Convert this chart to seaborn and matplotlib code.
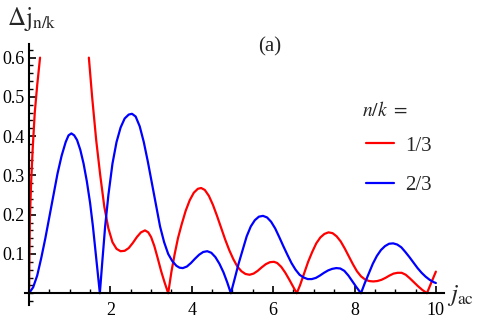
import numpy as np
import pandas as pd
import matplotlib
matplotlib.use("Agg")
import matplotlib.pyplot as plt
import seaborn as sns
from matplotlib.ticker import MultipleLocator, FixedLocator
from matplotlib.lines import Line2D

# ---- data ----
red_a_x = [0.0, 0.01, 0.02, 0.05, 0.09, 0.14, 0.20, 0.27]
red_a_y = [0.0, 0.10, 0.19, 0.28, 0.37, 0.46, 0.53, 0.60]

red_b_x = [1.47, 1.55, 1.65, 1.75, 1.85, 1.95, 2.05, 2.15, 2.25, 2.35, 2.45,
           2.55, 2.65, 2.75, 2.85, 2.93, 3.0, 3.08, 3.16, 3.25, 3.33, 3.42,
           3.5, 3.58, 3.66, 3.75, 3.85, 3.95, 4.05, 4.15, 4.23, 4.32, 4.42,
           4.52, 4.62, 4.72, 4.82, 4.92, 5.02, 5.12, 5.22, 5.32, 5.42, 5.52,
           5.62, 5.72, 5.82, 5.92, 6.02, 6.1, 6.2, 6.3, 6.4, 6.5, 6.58, 6.66,
           6.76, 6.86, 6.96, 7.06, 7.16, 7.26, 7.36, 7.46, 7.56, 7.66, 7.76,
           7.86, 7.96, 8.06, 8.16, 8.26, 8.36, 8.46, 8.56, 8.66, 8.76, 8.86,
           8.96, 9.06, 9.16, 9.26, 9.36, 9.46, 9.56, 9.66, 9.78, 9.86, 9.94,
           10.0]
red_b_y = [0.60, 0.50, 0.39, 0.30, 0.22, 0.165, 0.13, 0.113, 0.107, 0.108,
           0.115, 0.128, 0.143, 0.155, 0.16, 0.155, 0.143, 0.12, 0.09, 0.055,
           0.028, 0.0, 0.055, 0.10, 0.14, 0.175, 0.21, 0.237, 0.256, 0.266,
           0.268, 0.263, 0.248, 0.225, 0.197, 0.167, 0.137, 0.11, 0.087, 0.068,
           0.056, 0.049, 0.047, 0.05, 0.057, 0.066, 0.074, 0.079, 0.08, 0.077,
           0.067, 0.052, 0.034, 0.015, 0.0, 0.02, 0.05, 0.08, 0.105, 0.127,
           0.142, 0.151, 0.155, 0.153, 0.145, 0.132, 0.114, 0.094, 0.074,
           0.056, 0.043, 0.035, 0.031, 0.03, 0.031, 0.034, 0.039, 0.045, 0.05,
           0.052, 0.052, 0.047, 0.038, 0.028, 0.018, 0.009, 0.0, 0.02, 0.04,
           0.055]

blue_x = [0.0, 0.1, 0.2, 0.3, 0.4, 0.5, 0.6, 0.7, 0.8, 0.9, 0.97, 1.04, 1.11,
          1.18, 1.26, 1.34, 1.42, 1.5, 1.57, 1.64, 1.74, 1.8, 1.87, 1.95, 2.05,
          2.15, 2.25, 2.35, 2.45, 2.53, 2.62, 2.72, 2.82, 2.92, 3.02, 3.12,
          3.22, 3.32, 3.42, 3.52, 3.62, 3.7, 3.78, 3.88, 3.98, 4.08, 4.18,
          4.28, 4.38, 4.48, 4.58, 4.68, 4.78, 4.87, 4.96, 5.05, 5.15, 5.25,
          5.35, 5.45, 5.55, 5.65, 5.75, 5.85, 5.95, 6.05, 6.15, 6.25, 6.35,
          6.45, 6.55, 6.65, 6.75, 6.85, 6.95, 7.05, 7.15, 7.25, 7.35, 7.45,
          7.55, 7.65, 7.75, 7.85, 7.95, 8.05, 8.16, 8.25, 8.35, 8.45, 8.55,
          8.65, 8.75, 8.85, 8.95, 9.05, 9.15, 9.25, 9.35, 9.45, 9.55, 9.65,
          9.75, 9.85, 9.95, 10.0]
blue_y = [0.0, 0.015, 0.045, 0.09, 0.14, 0.195, 0.25, 0.305, 0.35, 0.385,
          0.402, 0.407, 0.402, 0.39, 0.365, 0.33, 0.285, 0.23, 0.17, 0.10, 0.0,
          0.08, 0.17, 0.25, 0.33, 0.385, 0.422, 0.445, 0.455, 0.457, 0.45,
          0.425, 0.385, 0.335, 0.28, 0.225, 0.17, 0.13, 0.10, 0.082, 0.07,
          0.065, 0.064, 0.068, 0.077, 0.088, 0.098, 0.105, 0.107, 0.103, 0.092,
          0.075, 0.053, 0.028, 0.0, 0.035, 0.075, 0.11, 0.145, 0.17, 0.186,
          0.195, 0.197, 0.193, 0.182, 0.165, 0.143, 0.12, 0.098, 0.077, 0.06,
          0.047, 0.04, 0.036, 0.036, 0.039, 0.045, 0.052, 0.058, 0.062, 0.064,
          0.063, 0.057, 0.045, 0.03, 0.015, 0.0, 0.025, 0.05, 0.075, 0.095,
          0.11, 0.12, 0.126, 0.127, 0.124, 0.117, 0.105, 0.092, 0.078, 0.064,
          0.052, 0.042, 0.034, 0.028, 0.026]

series_labels = ["1/3", "2/3"]
x_ticks = [2, 4, 6, 8, 10]
y_ticks = [0.1, 0.2, 0.3, 0.4, 0.5, 0.6]

df = pd.concat([
    pd.DataFrame({"x": red_a_x, "y": red_a_y, "nk": series_labels[0], "seg": "a"}),
    pd.DataFrame({"x": red_b_x, "y": red_b_y, "nk": series_labels[0], "seg": "b"}),
    pd.DataFrame({"x": blue_x, "y": blue_y, "nk": series_labels[1], "seg": "c"}),
], ignore_index=True)

sns.set_style("ticks")
plt.rcParams["font.family"] = ["Liberation Serif", "DejaVu Serif"]
plt.rcParams["mathtext.fontset"] = "stix"
plt.rcParams["xtick.bottom"] = True
plt.rcParams["ytick.left"] = True
plt.rcParams["xtick.color"] = "black"
plt.rcParams["ytick.color"] = "black"

fig = plt.figure(figsize=(4.88, 3.21), dpi=100)
ax = fig.add_axes([25 / 488, 16 / 321, (444 - 25) / 488, (305 - 43.5) / 321])

sns.lineplot(data=df, x="x", y="y", hue="nk", units="seg", estimator=None,
             palette={"1/3": "#ff0000", "2/3": "#0000ff"}, linewidth=1.6,
             sort=False, ax=ax, legend=False)

ax.set_xlim(-0.1, 10.2)
ax.set_ylim(-0.03, 0.636)

for s in ["top", "right"]:
    ax.spines[s].set_visible(False)
ax.spines["left"].set_position(("data", 0))
ax.spines["bottom"].set_position(("data", 0))
ax.spines["left"].set_linewidth(1.5)
ax.spines["bottom"].set_linewidth(1.5)
ax.spines["left"].set_color("black")
ax.spines["bottom"].set_color("black")

ax.xaxis.set_major_locator(FixedLocator(x_ticks))
ax.xaxis.set_minor_locator(MultipleLocator(0.5))
ax.yaxis.set_major_locator(FixedLocator(y_ticks))
ax.yaxis.set_minor_locator(MultipleLocator(0.02))
ax.set_xticklabels([str(t) for t in x_ticks])
ax.set_yticklabels([f"{t:.1f}" for t in y_ticks])
ax.tick_params(axis="x", which="both", bottom=True, top=False)
ax.tick_params(axis="y", which="both", left=True, right=False)
ax.tick_params(axis="both", which="major", direction="in", length=5, width=1.2,
               labelsize=13, pad=3, color="black")
ax.tick_params(axis="both", which="minor", direction="in", length=3, width=1.0,
               color="black")
ax.tick_params(axis="x", which="major", pad=6)
ax.set_xlabel("")
ax.set_ylabel("")

fig.text(7 / 488, 1 - 19 / 321, r"$\Delta\mathrm{j}_{\mathrm{n/k}}$", fontsize=18,
         ha="left", va="center")
fig.text(447 / 488, 1 - 295 / 321, r"$j_{\mathrm{ac}}$", fontsize=18, ha="left",
         va="center")
fig.text(270 / 488, 1 - 47 / 321, "(a)", fontsize=15, ha="center", va="center")
fig.text(362 / 488, 1 - 111 / 321, r"$n/k\ =$", fontsize=14, ha="left",
         va="center")

handles = [Line2D([], [], color="#ff0000", lw=1.6), Line2D([], [], color="#0000ff", lw=1.6)]
leg = ax.legend(handles, series_labels, frameon=False, fontsize=15,
                loc="upper left", borderpad=0, borderaxespad=0,
                bbox_to_anchor=(366 / 488, 1 - 136 / 321),
                bbox_transform=fig.transFigure,
                handlelength=1.35, handletextpad=0.55, labelspacing=0.95)

fig.savefig("out.png", dpi=100)
